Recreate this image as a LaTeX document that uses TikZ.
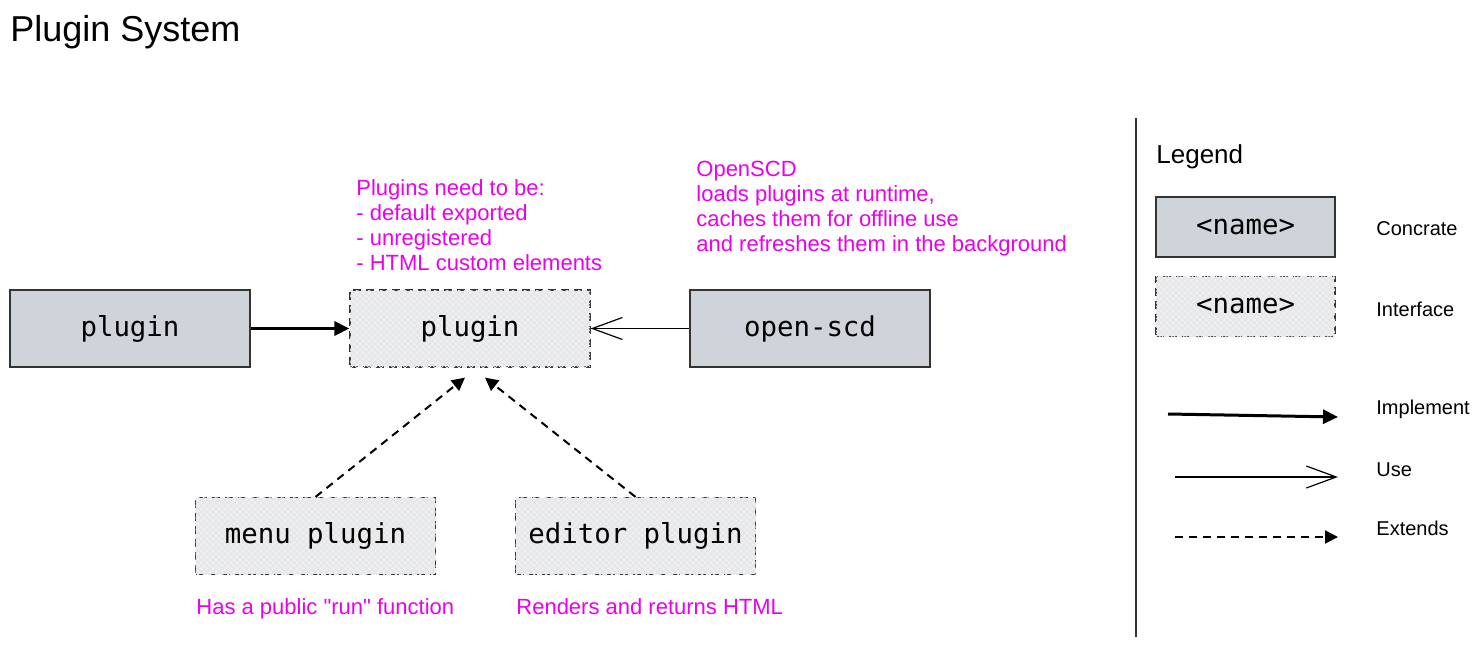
\documentclass[tikz,border=0pt]{standalone}
\usepackage{fontspec}
\setmainfont{Liberation Sans}
\setmonofont{DejaVu Sans Mono}
\usetikzlibrary{arrows.meta,patterns,positioning}
\definecolor{concretegray}{RGB}{206,212,218}
\definecolor{ifacegray}{RGB}{236,238,241}
\definecolor{notemagenta}{RGB}{234,0,234}

\begin{document}
\begin{tikzpicture}[x=0.5pt,y=-0.5pt,
    concrete/.style={draw=black!80,line width=0.6pt,fill=concretegray,
      minimum width=120pt,minimum height=38.5pt,inner sep=0pt,
      font=\ttfamily\fontsize{13.7}{15}\selectfont},
    iface/.style={concrete,dash pattern=on 4pt off 2.5pt,fill=ifacegray,
      postaction={pattern=crosshatch,pattern color=black!10}},
    smallbox/.style={minimum width=89.5pt,minimum height=30pt},
    note/.style={text=notemagenta,align=left,anchor=base west,inner sep=0pt,
      font=\fontsize{11}{12.5}\selectfont},
    label/.style={anchor=base west,inner sep=0pt,font=\fontsize{10}{12}\selectfont},
    implement/.style={line width=1.5pt,-{Triangle[length=7.5pt,width=7pt]}},
    use/.style={line width=0.6pt,-{Straight Barb[length=15pt,width=11pt,line width=0.6pt]}},
    extends/.style={line width=1pt,dash pattern=on 4pt off 3pt,-{Triangle[length=6.5pt,width=6.5pt]}}
  ]
  \useasboundingbox (0,0) rectangle (1481,647);

  % title
  \node[anchor=base west,inner sep=0pt,font=\fontsize{18}{21}\selectfont] (title) at (10,42) {Plugin System};

  % main diagram
  \node[concrete] (impl) at (130,328.5) {plugin};
  \node[iface] (plugin) at (470,328.5) {plugin};
  \node[concrete] (openscd) at (810,328.5) {open-scd};
  \node[iface] (menu) at (315.5,536) {menu plugin};
  \node[iface] (editor) at (635.5,536) {editor plugin};

  \draw[implement] (impl.east) -- (plugin.west);
  \draw[use] (openscd.west) -- (plugin.east);
  \draw[extends] (menu.north) -- ([xshift=-2.5pt,yshift=-5pt]plugin.south);
  \draw[extends] (editor.north) -- ([xshift=7.5pt,yshift=-5pt]plugin.south);

  % notes (placed at the baseline of their last line)
  \node[note] (needs) at (356,270) {Plugins need to be:\\- default exported\\- unregistered\\- HTML custom elements};
  \node[note] (loads) at (696,251) {OpenSCD\\loads plugins at runtime,\\caches them for offline use\\and refreshes them in the background};
  \node[note] (run) at (196,614) {Has a public \textquotedbl run\textquotedbl{} function};
  \node[note] (html) at (516,614) {Renders and returns HTML};

  % legend
  \draw[line width=0.6pt,black!80] (1136,118) -- (1136,637);
  \node[anchor=base west,inner sep=0pt,font=\fontsize{13}{15}\selectfont] (legend) at (1156,163) {Legend};
  \node[concrete,smallbox] (lconcrete) at (1245.5,227) {<name>};
  \node[iface,smallbox] (liface) at (1245.5,306.5) {<name>};
  \node[label] at (1376,235) {Concrate};
  \node[label] at (1376,316) {Interface};

  \coordinate (imA) at (1168,414);
  \coordinate (imB) at (1338,417);
  \coordinate (usA) at (1175,477);
  \coordinate (usB) at (1338,477);
  \coordinate (exA) at (1175,537);
  \coordinate (exB) at (1338,537);
  \draw[implement] (imA) -- (imB);
  \draw[use] (usA) -- (usB);
  \draw[extends] (exA) -- (exB);
  \node[label] at (1376,414) {Implement};
  \node[label] at (1376,476) {Use};
  \node[label] at (1376,535) {Extends};
\end{tikzpicture}
\end{document}
